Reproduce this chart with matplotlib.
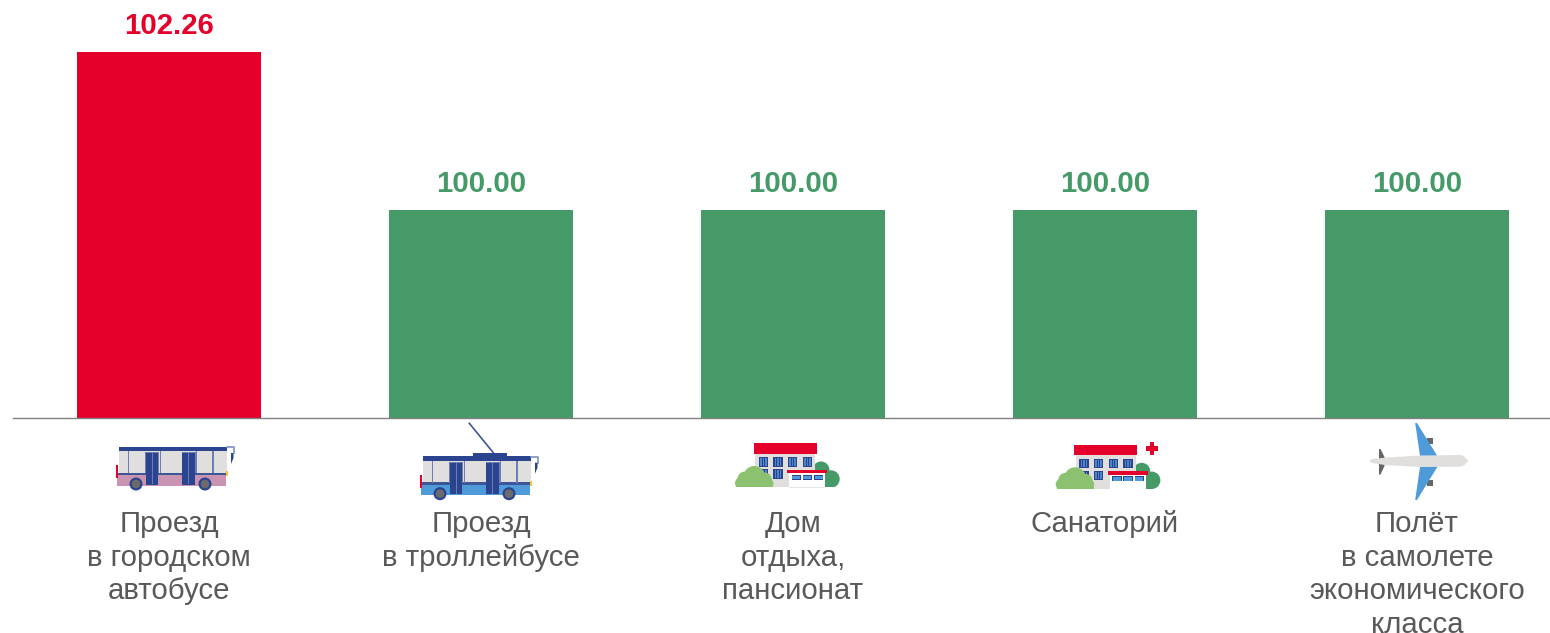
import matplotlib
matplotlib.use("Agg")
import matplotlib.pyplot as plt
from matplotlib.patches import Rectangle, Circle, Polygon

plt.rcParams['font.family'] = ['Liberation Sans', 'DejaVu Sans']

categories = ["Проезд\nв городском\nавтобусе", "Проезд\nв троллейбусе", "Дом\nотдыха,\nпансионат",
              "Санаторий", "Полёт\nв самолете\nэкономического\nкласса"]
values = [102.26, 100.00, 100.00, 100.00, 100.00]
value_labels = ["102.26", "100.00", "100.00", "100.00", "100.00"]

RED = "#E4002B"
GREEN = "#459A68"
W, H = 1550, 633
bar_colors = [RED, GREEN, GREEN, GREEN, GREEN]

fig = plt.figure(figsize=(W / 100, H / 100), dpi=100, facecolor="white")
left, right, base, top = 13, 1550, 418, 2
ax = fig.add_axes([left / W, 1 - base / H, (right - left) / W, (base - top) / H])
pos = list(range(len(values)))
bars = ax.bar(pos, values, width=184 / 312, color=bar_colors, linewidth=0)
ax.set_xlim(-0.5, (1550 - 169) / 312)
y0 = 100 - 208 / (158 / 2.26)
ax.set_ylim(y0, y0 + (base - top) / (158 / 2.26))
ax.set_yticks([])
ax.set_xticks(pos)
ax.set_xticklabels(categories, fontsize=21.2, color="#595959", linespacing=1.25)
ax.tick_params(axis='x', length=0, pad=66.4)
for s in ["top", "left", "right"]:
    ax.spines[s].set_visible(False)
ax.spines["bottom"].set_color("#808080")
ax.spines["bottom"].set_linewidth(1.0)
for bar, lab, c in zip(bars, value_labels, bar_colors):
    ax.annotate(lab, (bar.get_x() + bar.get_width() / 2, bar.get_height()), xytext=(0, 8.6),
                textcoords="offset points", ha="center", va="bottom",
                fontsize=21.2, fontweight="bold", color=c)

# decorative icons, in a pixel-space overlay
ic = fig.add_axes([0, 0, 1, 1], facecolor="none")
ic.set_xlim(0, W)
ic.set_ylim(H, 0)
ic.axis("off")
NAVY = "#2B4490"
GREY = "#E0DFDD"
BLUE = "#4F9BD9"
DGREY = "#666666"
LGREEN = "#8CC26F"
def rect(x0, y0_, x1, y1, c, z=2):
    ic.add_patch(Rectangle((x0, y0_), x1 - x0, y1 - y0_, fc=c, ec="none", zorder=z))
def circ(x, y, r, c, z=2):
    ic.add_patch(Circle((x, y), r, fc=c, ec="none", zorder=z))
def poly(pts, c, z=2):
    ic.add_patch(Polygon(pts, closed=True, fc=c, ec="none", zorder=z))

def bus(dx, dy, body):
    X = lambda v: v + dx
    Y = lambda v: v + dy
    rect(X(118.7), Y(451), X(226.6), Y(473.5), GREY)
    rect(X(116.8), Y(475), X(226), Y(485.5), body)
    rect(X(118), Y(472.7), X(226.5), Y(475.2), "#3C5697")
    rect(X(118.7), Y(446.7), X(227.3), Y(451.4), NAVY)
    for x in (127.8, 159.8, 195.8, 212):
        rect(X(x), Y(451), X(x + 1.6), Y(473), "#6E80B3")
    for x0, x1 in ((146, 158.3), (182.3, 195)):
        rect(X(x0 - .8), Y(452), X(x1 + .8), Y(473), "#6E80B3", 3)
        rect(X(x0), Y(453), X(x1), Y(484.5), NAVY, 3)
        rect(X((x0 + x1) / 2 - .4), Y(453), X((x0 + x1) / 2 + .4), Y(484), "#6C7DB5", 3)
    for x in (136, 205):
        circ(X(x), Y(484), 6.5, NAVY, 4)
        circ(X(x), Y(484), 4.3, "#6B6B6B", 5)
    ic.plot([X(227), X(233.5), X(233.5)], [Y(447), Y(447), Y(453)], color="#8090BE", lw=1.2, zorder=3)
    poly([(X(231), Y(453)), (X(233.5), Y(453)), (X(233.5), Y(458)), (X(231), Y(464))], NAVY, 3)
    rect(X(116.2), Y(465), X(118), Y(478), RED, 3)
    rect(X(225.5), Y(471), X(227.5), Y(476), "#F9C433", 3)

bus(0, 0, "#C993B2")
bus(304, 9.7, BLUE)
ic.plot([469.3, 493.3], [423.3, 452.7], color="#3C5697", lw=1.2, zorder=3)
rect(472.7, 452.7, 507.3, 457, NAVY)

def window(X, Y, cx, y0_, y1):
    rect(X(cx - 4.7), Y(y0_), X(cx + 4.7), Y(y1), NAVY, 3)
    rect(X(cx - 3.4), Y(y0_ + 1), X(cx + 3.4), Y(y1 - 1), "#4A86C8", 3)
    for o in (-1.2, 1.2):
        rect(X(cx + o - .5), Y(y0_ + .5), X(cx + o + .5), Y(y1 - .5), NAVY, 3)

def building(dx, dy):
    X = lambda v: v + dx
    Y = lambda v: v + dy
    # dark shrub behind the building
    for cx, cy, r in ((821, 470, 8.5), (831, 479, 8.7)):
        circ(X(cx), Y(cy), r, GREEN, 1)
    rect(X(815), Y(471), X(831), Y(487.3), GREEN, 1)
    rect(X(755.3), Y(454), X(815), Y(487.3), GREY)
    rect(X(753.7), Y(443.3), X(816.7), Y(454), RED, 3)
    for cx in (763.3, 778, 792.7, 807.3):
        window(X, Y, cx, 457.3, 466.7)
    for cx in (763.3, 778):
        window(X, Y, cx, 469.3, 478.7)
    # annex
    rect(X(787.3), Y(470), X(827.3), Y(473.3), RED, 5)
    rect(X(789.3), Y(473.3), X(825.3), Y(488), "white", 4)
    rect(X(789.3), Y(487.2), X(825.3), Y(488), "#E6E6E6", 4)
    for x0 in (791.7, 802.7, 814):
        rect(X(x0), Y(475), X(x0 + 9.3), Y(480), NAVY, 5)
        rect(X(x0 + .7), Y(475.8), X(x0 + 8.6), Y(479.2), BLUE, 5)
    # light shrub, cut flat at the bottom
    rect(X(736), Y(481), X(773.3), Y(487.3), LGREEN, 6)
    for cx, cy, r in ((754.3, 476.7, 10.7), (745, 479, 7.5), (740.5, 483, 5.5), (764.5, 480, 7.5), (769, 483.5, 4.5)):
        circ(X(cx), Y(cy), r, LGREEN, 6)
    rect(X(730), Y(487.3), X(780), Y(495), "white", 7)
    rect(X(825.4), Y(487.3), X(845), Y(495), "white", 3)

building(0, 0)
building(320.7, 1.3)
rect(1149.8, 442, 1154.2, 454.6, RED)
rect(1145.7, 446.1, 1158.3, 450.5, RED)

# plane
poly([(1415.2, 423), (1417, 423), (1437.3, 456), (1437.3, 467), (1417, 500), (1415.2, 500), (1420, 467), (1420, 456)], BLUE, 2)
rect(1426.5, 438, 1432.5, 443.5, DGREY, 1)
rect(1426.5, 480, 1432.5, 485.5, DGREY, 1)
poly([(1379, 449), (1380.5, 449), (1384.5, 457), (1384.5, 466), (1380.5, 474.5), (1379, 474.5)], DGREY, 2)
poly([(1370, 460), (1372, 459), (1385, 457.7), (1420, 455.5), (1460, 455), (1464, 456), (1468.5, 461),
      (1464, 465.5), (1460, 466.7), (1420, 467), (1385, 465), (1372, 463), (1370, 462)], GREY, 3)

fig.savefig("out.png", dpi=100, facecolor="white")
